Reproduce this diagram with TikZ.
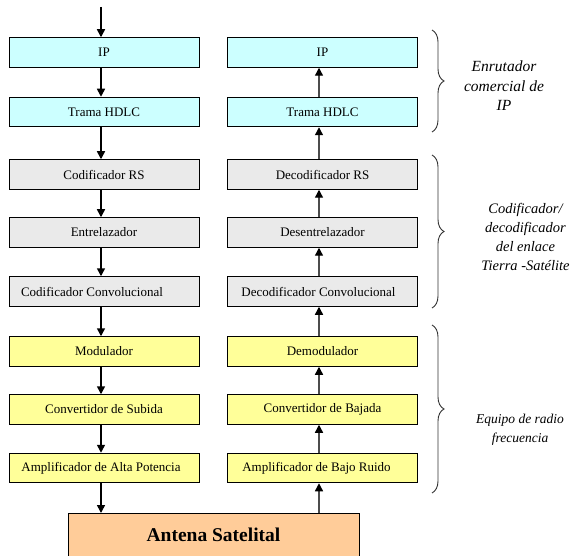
\documentclass[tikz,border=0pt]{standalone}
\usepackage{fontspec}
\setmainfont{Liberation Serif}
\usetikzlibrary{arrows.meta,decorations.pathreplacing}
\definecolor{ipcyan}{HTML}{CCFFFF}
\definecolor{codgray}{HTML}{EAEAEA}
\definecolor{rfyellow}{HTML}{FFFF99}
\definecolor{antpeach}{HTML}{FFCC99}
\tikzset{
  blk/.style={draw=black, line width=1pt, minimum width=190pt, minimum height=29.5pt,
              inner sep=0pt, font=\fontsize{13}{15}\selectfont},
  ipblk/.style={blk, fill=ipcyan},
  codblk/.style={blk, fill=codgray},
  rfblk/.style={blk, fill=rfyellow},
  txarrow/.style={line width=1.6pt, -{Triangle[length=8pt,width=8pt]}},
  rxarrow/.style={line width=1.3pt, draw=black!70, -{Triangle[length=8pt,width=8pt,color=black]}},
  grpbrace/.style={draw=black!80, line width=0.9pt, decorate,
                   decoration={brace, amplitude=12pt, aspect=0.5}},
  grplabel/.style={font=\itshape\fontsize{13.5}{19.5}\selectfont, align=center, inner sep=0pt},
}
\begin{document}
\begin{tikzpicture}[x=1pt, y=-1pt]
\useasboundingbox (0,0) rectangle (573,556);
\clip (0,0) rectangle (573,556);

% columns of the transmit (left) and receive (right) chains
\coordinate (xl) at (101,0);
\coordinate (xr) at (319,0);
\coordinate (in) at (101,7);

% transmit chain
\node[ipblk]  (tip)   at (104,52.5)  {IP};
\node[ipblk]  (thdlc) at (104,112)   {Trama HDLC};
\node[codblk] (trs)   at (104,174.5) {Codificador RS};
\node[codblk] (tint)  at (104,232.5) {Entrelazador};
\node[codblk] (tconv) at (104,291.5) {\hspace*{-24pt}Codificador Convolucional};
\node[rfblk]  (tmod)  at (104,351.5) {Modulador};
\node[rfblk]  (tup)   at (104,409.5) {Convertidor de Subida};
\node[rfblk]  (thpa)  at (104,468)   {\hspace*{-6pt}Amplificador de Alta Potencia};

% receive chain
\node[ipblk]  (rip)   at (322.5,52.5)  {IP};
\node[ipblk]  (rhdlc) at (322.5,112)   {Trama HDLC};
\node[codblk] (rrs)   at (322.5,174.5) {Decodificador RS};
\node[codblk] (rdeint) at (322.5,232.5) {Desentrelazador};
\node[codblk] (rconv) at (322.5,291.5) {\hspace*{-8pt}Decodificador Convolucional};
\node[rfblk]  (rdem)  at (322.5,351.5) {Demodulador};
\node[rfblk]  (rdown) at (322.5,409.5) {Convertidor de Bajada};
\node[rfblk]  (rlna)  at (322.5,468)   {\hspace*{-12pt}Amplificador de Bajo Ruido};

% antenna
\node[draw=black, line width=1pt, fill=antpeach, minimum width=291pt, minimum height=80pt,
      anchor=north, inner sep=0pt] (ant) at (213.5,513) {};
\node[font=\bfseries\fontsize{19.5}{22}\selectfont] (antlbl) at (213.5,535) {Antena Satelital};

% transmit arrows
\draw[txarrow] (in) -- (tip.north -| xl);
\draw[txarrow] (tip.south -| xl) -- (thdlc.north -| xl);
\draw[txarrow] (thdlc.south -| xl) -- (trs.north -| xl);
\draw[txarrow] (trs.south -| xl) -- (tint.north -| xl);
\draw[txarrow] (tint.south -| xl) -- (tconv.north -| xl);
\draw[txarrow] (tconv.south -| xl) -- (tmod.north -| xl);
\draw[txarrow] (tmod.south -| xl) -- (tup.north -| xl);
\draw[txarrow] (tup.south -| xl) -- (thpa.north -| xl);
\draw[txarrow] (thpa.south -| xl) -- (ant.north -| xl);

% receive arrows
\draw[rxarrow] (ant.north -| xr) -- (rlna.south -| xr);
\draw[rxarrow] (rlna.north -| xr) -- (rdown.south -| xr);
\draw[rxarrow] (rdown.north -| xr) -- (rdem.south -| xr);
\draw[rxarrow] (rdem.north -| xr) -- (rconv.south -| xr);
\draw[rxarrow] (rconv.north -| xr) -- (rdeint.south -| xr);
\draw[rxarrow] (rdeint.north -| xr) -- (rrs.south -| xr);
\draw[rxarrow] (rrs.north -| xr) -- (rhdlc.south -| xr);
\draw[rxarrow] (rhdlc.north -| xr) -- (rip.south -| xr);

% group braces
\coordinate (b1t) at (432,30);  \coordinate (b1b) at (432,132);
\coordinate (b2t) at (432,155); \coordinate (b2b) at (432,308);
\coordinate (b3t) at (432,325); \coordinate (b3b) at (432,493);
\draw[grpbrace] (b1t) -- (b1b);
\draw[grpbrace] (b2t) -- (b2b);
\draw[grpbrace] (b3t) -- (b3b);

% group labels
\node[grplabel, font=\itshape\fontsize{15.5}{19.5}\selectfont] (lbl1) at (504,86)
  {Enrutador\\comercial de\\IP};
\node[grplabel, font=\itshape\fontsize{14.5}{19.3}\selectfont] (lbl2) at (525.5,237)
  {Codificador/\\decodificador\\del enlace\\Tierra -Satélite};
\node[grplabel] (lbl3) at (520,430)
  {Equipo de radio\\frecuencia};
\end{tikzpicture}
\end{document}
